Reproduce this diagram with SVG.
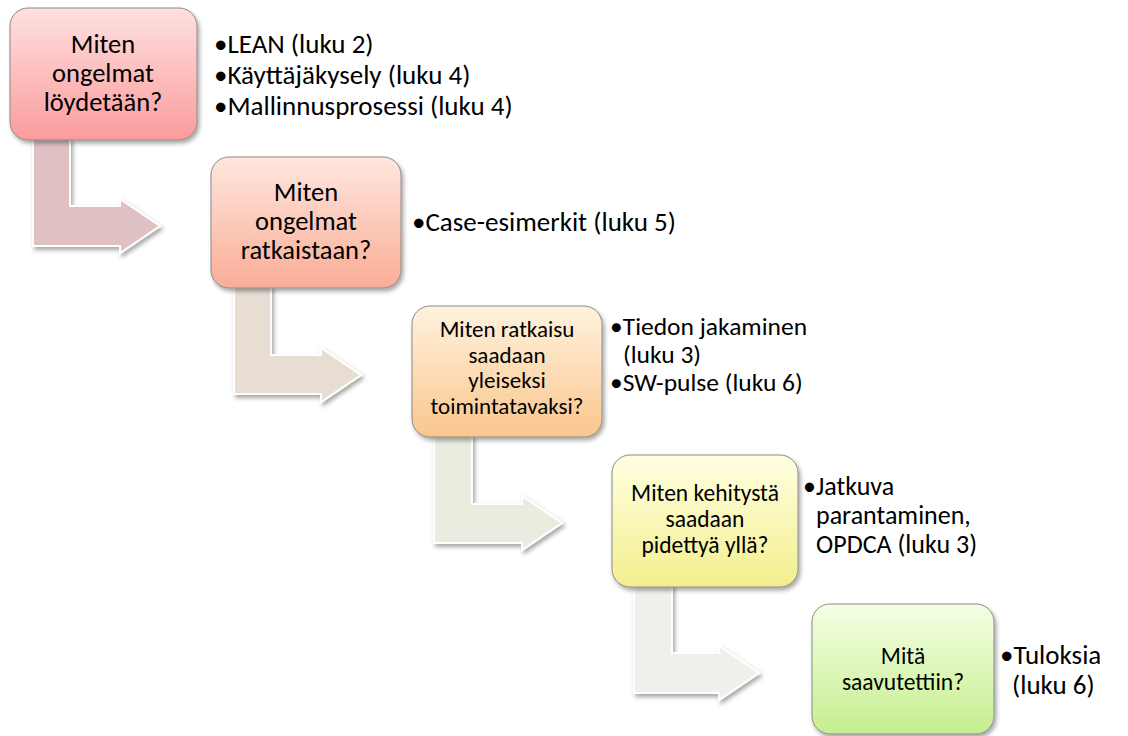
<svg xmlns="http://www.w3.org/2000/svg" width="1128" height="736" viewBox="0 0 1128 736">
<defs>
<filter id="sh" x="-20%" y="-20%" width="140%" height="140%">
<feDropShadow dx="2" dy="3" stdDeviation="2" flood-color="#000" flood-opacity="0.35"/>
</filter>
<linearGradient id="g1" x1="0" y1="0" x2="0" y2="1"><stop offset="0" stop-color="#ffe0e0"/><stop offset="1" stop-color="#fb9c9c"/></linearGradient>
<linearGradient id="g2" x1="0" y1="0" x2="0" y2="1"><stop offset="0" stop-color="#ffe7de"/><stop offset="1" stop-color="#f9ad96"/></linearGradient>
<linearGradient id="g3" x1="0" y1="0" x2="0" y2="1"><stop offset="0" stop-color="#fff2de"/><stop offset="1" stop-color="#fac68d"/></linearGradient>
<linearGradient id="g4" x1="0" y1="0" x2="0" y2="1"><stop offset="0" stop-color="#ffffe2"/><stop offset="1" stop-color="#f3ef8e"/></linearGradient>
<linearGradient id="g5" x1="0" y1="0" x2="0" y2="1"><stop offset="0" stop-color="#f4ffe4"/><stop offset="1" stop-color="#c6ee8f"/></linearGradient>
</defs>
<style>
.box{stroke:#8a8a8a;stroke-width:1;filter:url(#sh)}
.arr{stroke:#ffffff;stroke-width:2;filter:url(#sh)}
.t{font-family:Carlito,Calibri,Lato,"Liberation Sans",sans-serif;fill:#000;}
.lbl{text-anchor:middle;}
.big{font-size:26.5px}
.mid3{font-size:23px}
.mid{font-size:23.5px}
.bl{font-size:27px}
.bl3{font-size:25.5px}
.bl4{font-size:26px}
</style>
<g id="connectors">
<path class="arr" fill="#dfc1c4" d="M33,138 L70,138 L70,206 L120,206 L120,199 L160,226 L120,253 L120,246 L33,246 Z"/>
<path class="arr" fill="#e8ddd2" d="M234,286 L271,286 L271,355 L321,355 L321,348 L361,375 L321,402 L321,394 L234,394 Z"/>
<path class="arr" fill="#ecebdf" d="M434,435 L472,435 L472,504 L522,504 L522,496 L562,523 L522,550 L522,543 L434,543 Z"/>
<path class="arr" fill="#eff0ea" d="M634,585 L672,585 L672,653 L719,653 L719,646 L759,673 L719,700 L719,693 L634,693 Z"/>
</g>
<g id="node1">
<rect class="box" x="10" y="8" width="187" height="132" rx="18" fill="url(#g1)"/>
<text class="t lbl big"><tspan x="103" y="53">Miten</tspan><tspan x="103" y="82">ongelmat</tspan><tspan x="103" y="111">löydetään?</tspan></text>
</g>
<g id="list1">
<text class="t bl"><tspan x="214" y="53">•LEAN (luku 2)</tspan><tspan x="214" y="84">•Käyttäjäkysely (luku 4)</tspan><tspan x="214" y="115">•Mallinnusprosessi (luku 4)</tspan></text>
</g>
<g id="node2">
<rect class="box" x="211" y="157" width="190" height="131" rx="18" fill="url(#g2)"/>
<text class="t lbl big"><tspan x="306" y="201">Miten</tspan><tspan x="306" y="230">ongelmat</tspan><tspan x="306" y="259">ratkaistaan?</tspan></text>
</g>
<g id="list2">
<text class="t bl" x="412" y="231">•Case-esimerkit (luku 5)</text>
</g>
<g id="node3">
<rect class="box" x="412" y="306" width="190" height="131" rx="18" fill="url(#g3)"/>
<text class="t lbl mid3"><tspan x="507" y="337">Miten ratkaisu</tspan><tspan x="507" y="362.5">saadaan</tspan><tspan x="507" y="388">yleiseksi</tspan><tspan x="507" y="413.5">toimintatavaksi?</tspan></text>
</g>
<g id="list3">
<text class="t bl3"><tspan x="610" y="335">•Tiedon jakaminen</tspan><tspan x="623" y="363">(luku 3)</tspan><tspan x="610" y="391">•SW-pulse (luku 6)</tspan></text>
</g>
<g id="node4">
<rect class="box" x="612" y="455" width="186" height="132" rx="18" fill="url(#g4)"/>
<text class="t lbl mid"><tspan x="705" y="501">Miten kehitystä</tspan><tspan x="705" y="527">saadaan</tspan><tspan x="705" y="553">pidettyä yllä?</tspan></text>
</g>
<g id="list4">
<text class="t bl4"><tspan x="803" y="495">•Jatkuva</tspan><tspan x="816" y="524">parantaminen,</tspan><tspan x="816" y="553">OPDCA (luku 3)</tspan></text>
</g>
<g id="node5">
<rect class="box" x="812" y="604" width="182" height="130" rx="18" fill="url(#g5)"/>
<text class="t lbl mid"><tspan x="903" y="664">Mitä</tspan><tspan x="903" y="690">saavutettiin?</tspan></text>
</g>
<g id="list5">
<text class="t bl"><tspan x="1000" y="664">•Tuloksia</tspan><tspan x="1012" y="694">(luku 6)</tspan></text>
</g>
</svg>
